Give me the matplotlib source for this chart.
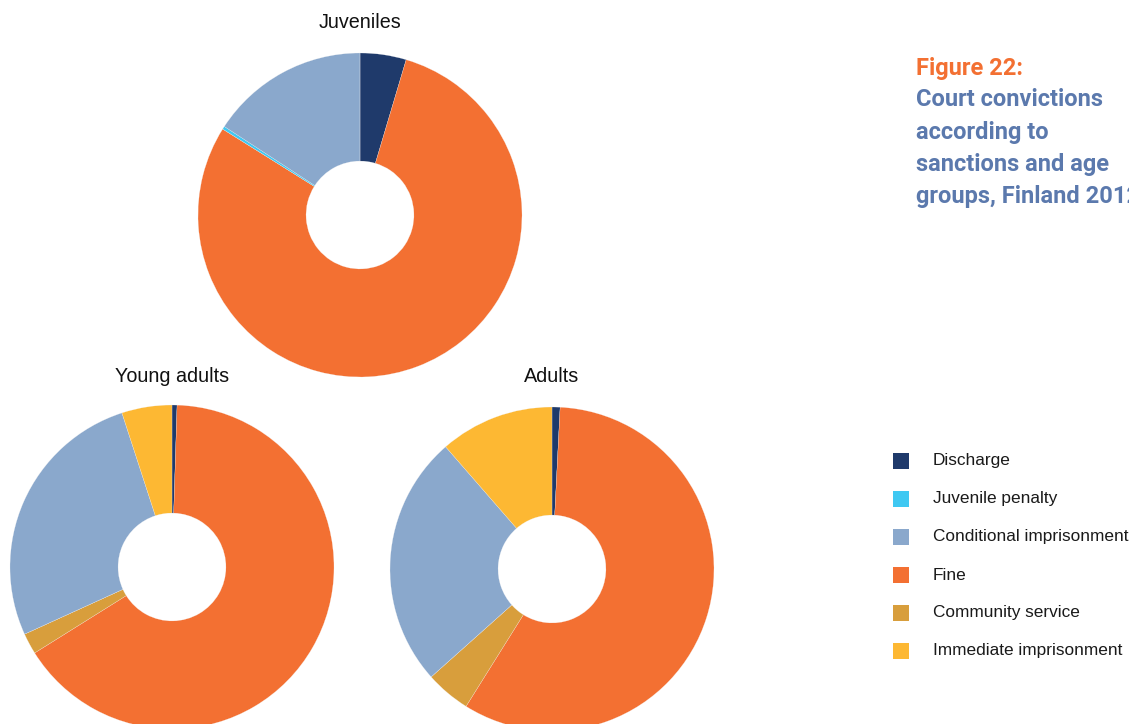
import matplotlib
matplotlib.use("Agg")
import matplotlib.pyplot as plt

W, H = 1129, 724
categories = ["Discharge", "Juvenile penalty", "Conditional imprisonment",
              "Fine", "Community service", "Immediate imprisonment"]
colors = {"Discharge": "#1f3a6b", "Juvenile penalty": "#3fc8f2",
          "Conditional imprisonment": "#8aa8cc", "Fine": "#f37032",
          "Community service": "#d89e3c", "Immediate imprisonment": "#fdb833"}
# clockwise drawing order starting at 12 o'clock
draw_order = ["Discharge", "Fine", "Community service", "Juvenile penalty",
              "Conditional imprisonment", "Immediate imprisonment"]

groups = ["Juveniles", "Young adults", "Adults"]
# shares (%) in the order of `categories`
juveniles = [4.6, 0.3, 15.8, 79.3, 0.0, 0.0]
young_adults = [0.5, 0.0, 26.8, 65.6, 2.1, 5.0]
adults = [0.8, 0.0, 25.2, 58.1, 4.5, 11.4]
values = {"Juveniles": juveniles, "Young adults": young_adults, "Adults": adults}

fig = plt.figure(figsize=(W / 100, H / 100), dpi=100)

centers = {"Juveniles": (360, 215), "Young adults": (172, 567), "Adults": (552, 569)}
title_pos = {"Juveniles": (360, 22), "Young adults": (172, 377), "Adults": (552, 377)}
R = 162

for g in groups:
    cx, cy = centers[g]
    ax = fig.add_axes([(cx - R) / W, (H - cy - R) / H, 2 * R / W, 2 * R / H])
    d = dict(zip(categories, values[g]))
    vals = [d[c] for c in draw_order]
    cols = [colors[c] for c in draw_order]
    ax.pie(vals, colors=cols, startangle=90, counterclock=False, radius=1,
           wedgeprops=dict(width=0.667, edgecolor="#f4f4f4", linewidth=0.15))
    ax.set_xlim(-1, 1)
    ax.set_ylim(-1, 1)
    ax.set_aspect("equal")
    ax.axis("off")
    tx, ty = title_pos[g]
    fig.text(tx / W, 1 - ty / H, g, ha="center", va="center",
             fontsize=14.2, color="#111111", family=["Liberation Sans", "DejaVu Sans"])

# Figure caption
cap_font = ["Liberation Sans Narrow", "DejaVu Sans Condensed", "Roboto"]
fig.text(916 / W, 1 - 68 / H, "Figure 22:", ha="left", va="center", fontsize=17,
         fontweight="bold", color="#f37032", family=cap_font)
caption_lines = ["Court convictions", "according to", "sanctions and age",
                 "groups, Finland 2012"]
for i, line in enumerate(caption_lines):
    fig.text(916 / W, 1 - (100 + 32.3 * i) / H, line, ha="left", va="center",
             fontsize=17, fontweight="bold", color="#5b79ad", family=cap_font)

# Legend
for i, c in enumerate(categories):
    y = 461 + 38 * i
    fig.patches.append(plt.Rectangle((893 / W, 1 - (y + 8) / H), 16 / W, 16 / H,
                                     transform=fig.transFigure, facecolor=colors[c],
                                     edgecolor="none"))
    fig.text(933 / W, 1 - y / H, c, ha="left", va="center", fontsize=12.4,
             color="#1a1a1a", family=["Liberation Sans", "DejaVu Sans"])

fig.savefig("out.png", dpi=100)
